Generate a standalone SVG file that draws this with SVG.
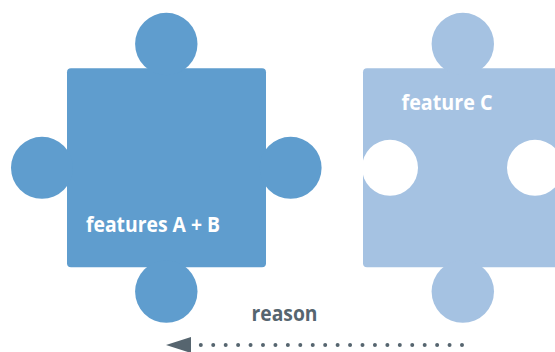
<svg xmlns="http://www.w3.org/2000/svg" width="555" height="352" viewBox="0 0 555 352">
  <style>
    .dark { fill: #5f9dce; }
    .light { fill: #a5c2e2; }
    .hole { fill: #ffffff; }
    .lbl { font-family: "Open Sans", "Liberation Sans", sans-serif; font-weight: 700; font-size: 21px; }
    .white { fill: #ffffff; }
    .gray { fill: #56656f; }
  </style>
  <rect width="555" height="352" fill="#ffffff"/>

  <g id="piece-ab">
    <rect class="dark" x="67" y="68.3" width="199" height="199" rx="4"/>
    <circle class="dark" cx="166.3" cy="44" r="31.2"/>
    <circle class="dark" cx="166.3" cy="291.6" r="31.2"/>
    <circle class="dark" cx="42" cy="167.8" r="31"/>
    <circle class="dark" cx="290.6" cy="167.8" r="31"/>
    <text class="lbl white" x="86" y="232" textLength="134" lengthAdjust="spacingAndGlyphs">features A + B</text>
  </g>

  <g id="piece-c">
    <rect class="light" x="363" y="68.3" width="199" height="199" rx="4"/>
    <circle class="light" cx="462.8" cy="44" r="31.2"/>
    <circle class="light" cx="462.8" cy="291.6" r="31.2"/>
    <circle class="hole" cx="390" cy="167.8" r="28"/>
    <circle class="hole" cx="535" cy="167.8" r="28"/>
    <text class="lbl white" x="401.5" y="110" textLength="91" lengthAdjust="spacingAndGlyphs">feature C</text>
  </g>

  <g id="connectors">
    <line x1="200.8" y1="345" x2="462" y2="345" stroke="#56656f" stroke-width="4" stroke-linecap="round" stroke-dasharray="0 12.438"/>
    <path d="M166,345 L191,337 L191,353 Z" fill="#56656f"/>
    <text class="lbl gray" x="251.5" y="320.5" textLength="66" lengthAdjust="spacingAndGlyphs">reason</text>
  </g>
</svg>
